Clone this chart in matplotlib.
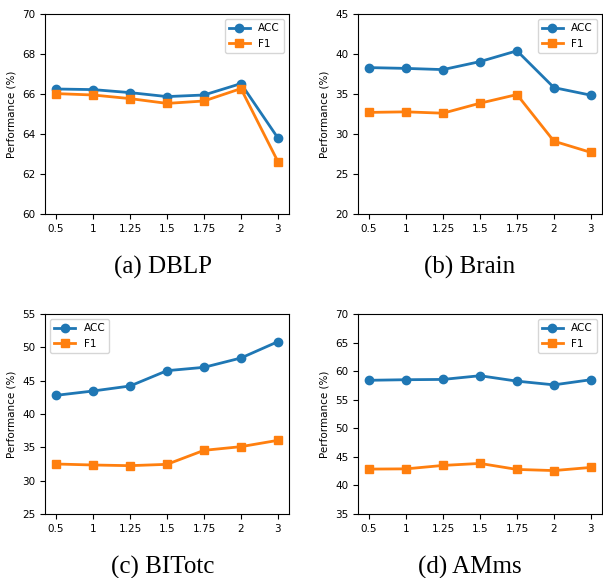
import matplotlib
matplotlib.use("Agg")
import matplotlib.pyplot as plt

x_labels = ["0.5", "1", "1.25", "1.5", "1.75", "2", "3"]

dblp_acc = [66.25, 66.22, 66.07, 65.87, 65.95, 66.52, 63.80]
dblp_f1 = [66.02, 65.95, 65.77, 65.53, 65.65, 66.27, 62.62]

brain_acc = [38.3, 38.2, 38.05, 39.05, 40.4, 35.8, 34.85]
brain_f1 = [32.7, 32.77, 32.6, 33.85, 34.93, 29.1, 27.7]

bitotc_acc = [42.8, 43.45, 44.2, 46.5, 47.0, 48.4, 50.85]
bitotc_f1 = [32.5, 32.35, 32.25, 32.45, 34.55, 35.1, 36.05]

amms_acc = [58.4, 58.5, 58.55, 59.2, 58.25, 57.6, 58.5]
amms_f1 = [42.86, 42.9, 43.5, 43.85, 42.8, 42.6, 43.15]

panels = [
    ("(a) DBLP", dblp_acc, dblp_f1, (60, 70), list(range(60, 71, 2)), "upper right"),
    ("(b) Brain", brain_acc, brain_f1, (20, 45), list(range(20, 46, 5)), "upper right"),
    ("(c) BITotc", bitotc_acc, bitotc_f1, (25, 55), list(range(25, 56, 5)), "upper left"),
    ("(d) AMms", amms_acc, amms_f1, (35, 70), list(range(35, 71, 5)), "upper right"),
]

W, H = 603, 578
fig = plt.figure(figsize=(W / 100, H / 100), dpi=100)

# axes boxes in pixels: left, top, right, bottom
boxes = [(45, 14, 289, 214), (358, 14, 602, 214), (45, 314, 289, 514), (358, 314, 602, 514)]
caption_pos = [(163, 267), (470, 267), (163, 567), (470, 567)]

fs = 7.5
for (title, acc, f1, ylim, yticks, loc), (l, t, r, b), (cx, cy) in zip(panels, boxes, caption_pos):
    ax = fig.add_axes([l / W, 1 - b / H, (r - l) / W, (b - t) / H])
    xs = list(range(len(x_labels)))
    ax.plot(xs, acc, color="#1f77b4", marker="o", lw=2, ms=6, label="ACC")
    ax.plot(xs, f1, color="#ff7f0e", marker="s", lw=2, ms=6, label="F1")
    ax.set_xticks(xs)
    ax.set_xticklabels(x_labels, fontsize=fs)
    ax.set_ylim(*ylim)
    ax.set_yticks(yticks)
    ax.tick_params(axis="y", labelsize=fs)
    ax.set_ylabel("Performance (%)", fontsize=fs)
    ax.legend(loc=loc, fontsize=fs)
    fig.text(cx / W, 1 - cy / H, title, ha="center", va="center",
             fontsize=18, family="Liberation Serif")

fig.savefig("out.png", dpi=100)
